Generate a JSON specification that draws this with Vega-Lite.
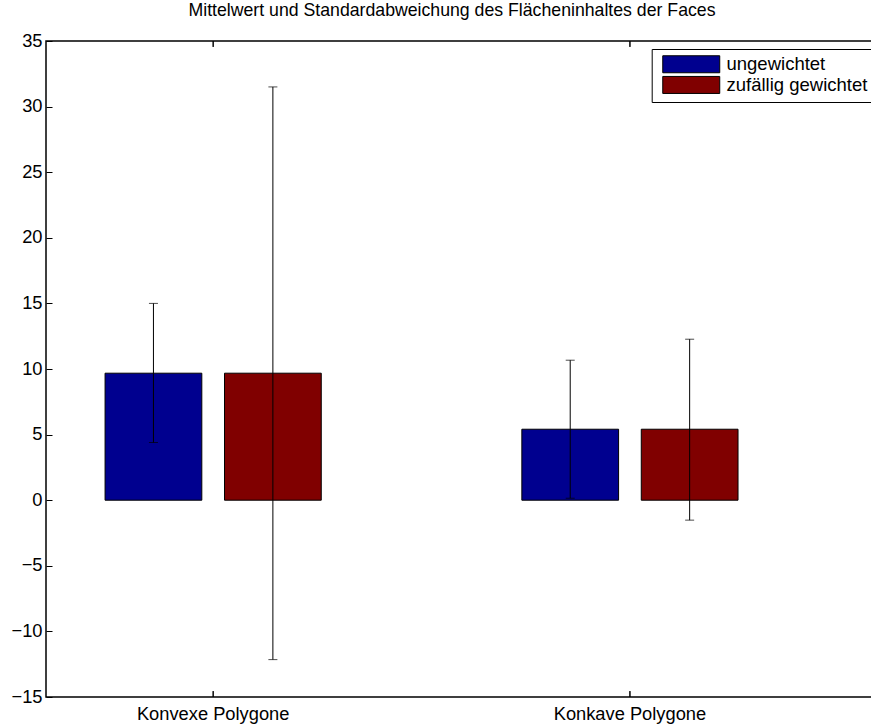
{
  "$schema": "https://vega.github.io/schema/vega-lite/v6.json",
  "width": 826,
  "height": 656,
  "autosize": {"type": "none"},
  "padding": {"left": 46, "top": 41, "right": -1, "bottom": 28},
  "config": {
    "view": {"stroke": "black", "strokeWidth": 1.5},
    "font": "Liberation Sans",
    "axis": {"grid": false, "domain": false, "tickColor": "black", "labelColor": "black", "labelFont": "Liberation Sans", "labelFontSize": 18.3, "title": null, "tickSize": -6},
    "axisX": {"labelAngle": 0, "labelPadding": 8, "ticks": false},
    "axisY": {"labelPadding": 10, "tickCount": 10}
  },
  "title": {"text": "Mittelwert und Standardabweichung des Flächeninhaltes der Faces", "fontSize": 17.7, "fontWeight": "normal", "font": "Liberation Sans", "color": "black", "offset": 11, "dx": -7},
  "data": {
    "values": [
      {"Polygon": "Konvexe Polygone", "Gewichtung": "ungewichtet", "Mittelwert": 9.68, "Min": 4.4, "Max": 15.0},
      {"Polygon": "Konvexe Polygone", "Gewichtung": "zufällig gewichtet", "Mittelwert": 9.68, "Min": -12.15, "Max": 31.5},
      {"Polygon": "Konkave Polygone", "Gewichtung": "ungewichtet", "Mittelwert": 5.41, "Min": 0.15, "Max": 10.67},
      {"Polygon": "Konkave Polygone", "Gewichtung": "zufällig gewichtet", "Mittelwert": 5.41, "Min": -1.52, "Max": 12.27}
    ]
  },
  "resolve": {"axis": {"x": "independent", "y": "independent"}},
  "layer": [
    {
      "mark": {"type": "bar", "stroke": "black", "strokeWidth": 1},
      "encoding": {
        "x": {"field": "Polygon", "type": "nominal", "sort": ["Konvexe Polygone", "Konkave Polygone"], "scale": {"paddingInner": 0.4813, "paddingOuter": 0.2316, "align": 0.306}, "axis": {"orient": "bottom"}},
        "xOffset": {"field": "Gewichtung", "type": "nominal", "sort": ["ungewichtet", "zufällig gewichtet"], "scale": {"paddingInner": 0.19, "paddingOuter": 0}},
        "y": {"field": "Mittelwert", "type": "quantitative", "scale": {"domain": [-15, 35], "nice": false, "zero": false}, "axis": {"orient": "left"}},
        "y2": {"datum": 0},
        "color": {"field": "Gewichtung", "type": "nominal", "sort": ["ungewichtet", "zufällig gewichtet"], "scale": {"range": ["#00008f", "#800000"]},
          "legend": {"title": null, "orient": "none", "legendX": 605.7, "legendY": 8, "symbolType": "M-0.494,-1H6.21V1H-0.494Z", "symbolSize": 289, "symbolStrokeColor": "black", "symbolStrokeWidth": 1, "labelFontSize": 18.5, "labelColor": "black", "labelFont": "Liberation Sans", "strokeColor": "black", "fillColor": "white", "padding": 6, "rowPadding": -1.3, "labelOffset": 50.3, "cornerRadius": 0, "symbolOpacity": 1}}
      }
    },
    {
      "mark": {"type": "rule", "color": "black", "strokeWidth": 1},
      "encoding": {
        "x": {"field": "Polygon", "type": "nominal", "sort": ["Konvexe Polygone", "Konkave Polygone"], "axis": null},
        "xOffset": {"field": "Gewichtung", "type": "nominal", "sort": ["ungewichtet", "zufällig gewichtet"]},
        "y": {"field": "Min", "type": "quantitative", "axis": null},
        "y2": {"field": "Max"}
      }
    },
    {
      "mark": {"type": "tick", "color": "black", "size": 9, "thickness": 1, "orient": "horizontal"},
      "encoding": {
        "x": {"field": "Polygon", "type": "nominal", "sort": ["Konvexe Polygone", "Konkave Polygone"], "axis": null},
        "xOffset": {"field": "Gewichtung", "type": "nominal", "sort": ["ungewichtet", "zufällig gewichtet"]},
        "y": {"field": "Min", "type": "quantitative", "axis": null}
      }
    },
    {
      "mark": {"type": "tick", "color": "black", "size": 9, "thickness": 1, "orient": "horizontal"},
      "encoding": {
        "x": {"field": "Polygon", "type": "nominal", "sort": ["Konvexe Polygone", "Konkave Polygone"], "axis": null},
        "xOffset": {"field": "Gewichtung", "type": "nominal", "sort": ["ungewichtet", "zufällig gewichtet"]},
        "y": {"field": "Max", "type": "quantitative", "axis": null}
      }
    },
    {
      "mark": {"type": "rule", "color": "black", "strokeWidth": 1},
      "encoding": {
        "x": {"field": "Polygon", "type": "nominal", "sort": ["Konvexe Polygone", "Konkave Polygone"], "axis": null},
        "y": {"datum": 35, "axis": null},
        "y2": {"datum": 34.55}
      }
    },
    {
      "mark": {"type": "rule", "color": "black", "strokeWidth": 1},
      "encoding": {
        "x": {"field": "Polygon", "type": "nominal", "sort": ["Konvexe Polygone", "Konkave Polygone"], "axis": null},
        "y": {"datum": -15, "axis": null},
        "y2": {"datum": -14.55}
      }
    }
  ]
}
